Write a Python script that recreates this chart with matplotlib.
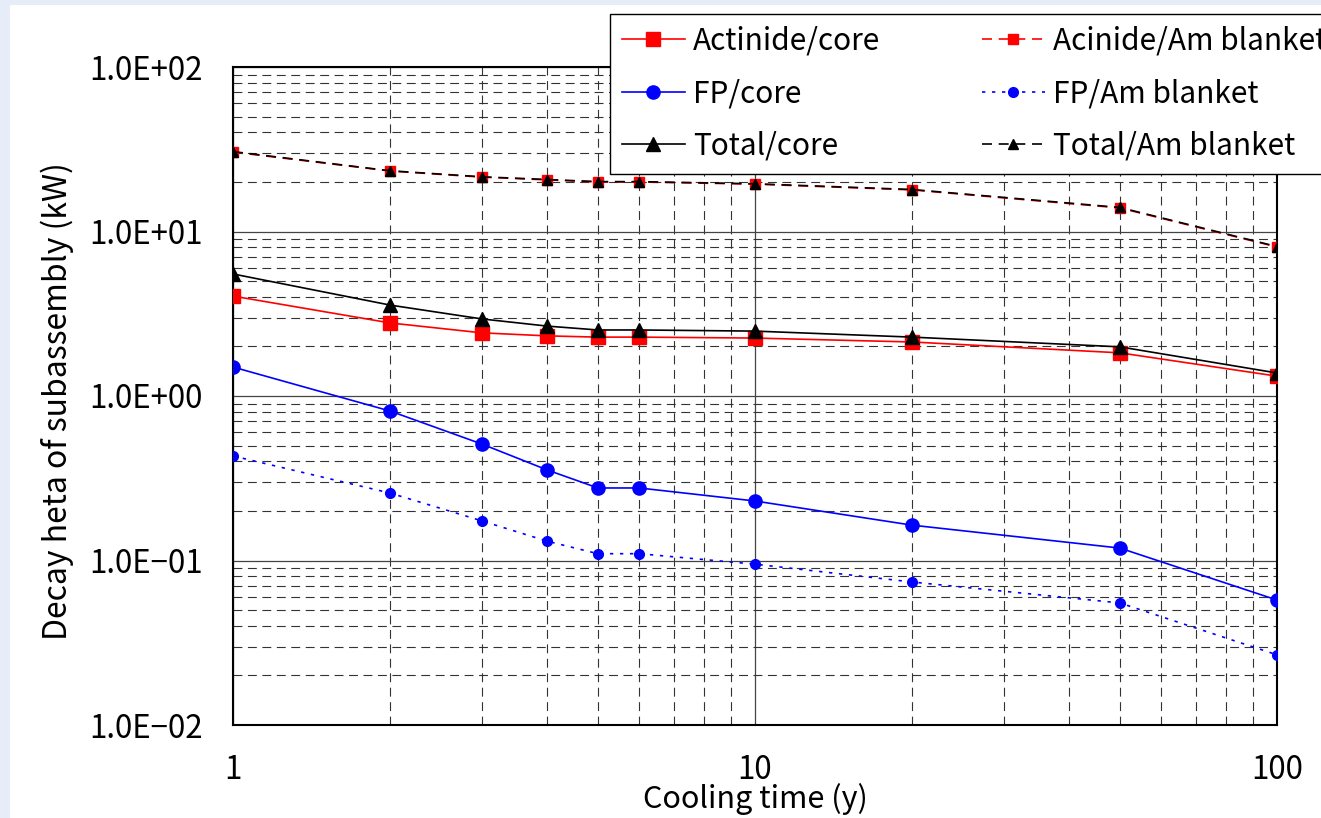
import matplotlib
matplotlib.use("Agg")
import matplotlib.pyplot as plt
from matplotlib.patches import Rectangle
from matplotlib.ticker import FixedLocator, LogLocator, NullFormatter

plt.rcParams['font.family'] = ['Noto Sans CJK JP', 'DejaVu Sans']

cooling_time = [1, 2, 3, 4, 5, 6, 10, 20, 50, 100]
actinide_core = [4.05, 2.78, 2.42, 2.32, 2.28, 2.28, 2.25, 2.13, 1.83, 1.32]
fp_core = [1.50, 0.81, 0.51, 0.355, 0.276, 0.276, 0.23, 0.164, 0.119, 0.0575]
total_core = [5.52, 3.57, 2.94, 2.66, 2.52, 2.52, 2.48, 2.28, 1.99, 1.38]
actinide_blanket = [30.4, 23.3, 21.4, 20.6, 20.0, 20.0, 19.4, 17.9, 13.9, 8.05]
fp_blanket = [0.432, 0.257, 0.174, 0.131, 0.110, 0.110, 0.095, 0.074, 0.0552, 0.0267]
total_blanket = [30.6, 23.4, 21.5, 20.7, 20.1, 20.1, 19.5, 18.0, 14.0, 8.1]

y_ticks = [0.01, 0.1, 1, 10, 100]
y_tick_labels = ["1.0E\u221202", "1.0E\u221201", "1.0E+00", "1.0E+01", "1.0E+02"]
x_ticks = [1, 10, 100]
x_tick_labels = ["1", "10", "100"]

W, H = 1321, 818
FS = 21.5
TFS = 22.5
LFS = 23
fig = plt.figure(figsize=(W / 100, H / 100), dpi=100, facecolor="#e6edf8")
fig.patches.append(Rectangle((10 / W, 0), 1 - 10 / W, 1 - 5 / H, transform=fig.transFigure,
                             facecolor="white", edgecolor="none", zorder=-10))

ax = fig.add_axes([233 / W, 1 - 725 / H, (1277 - 233) / W, (725 - 67) / H])
ax.set_xscale("log")
ax.set_yscale("log")
ax.set_xlim(1, 100)
ax.set_ylim(0.01, 100)
ax.set_facecolor("white")

ax.yaxis.set_major_locator(FixedLocator(y_ticks))
ax.set_yticklabels(y_tick_labels)
ax.xaxis.set_major_locator(FixedLocator(x_ticks))
ax.set_xticklabels(x_tick_labels)
ax.xaxis.set_minor_locator(LogLocator(base=10, subs=range(2, 10)))
ax.yaxis.set_minor_locator(LogLocator(base=10, subs=range(2, 10)))
ax.xaxis.set_minor_formatter(NullFormatter())
ax.yaxis.set_minor_formatter(NullFormatter())
ax.tick_params(which="both", length=0, labelsize=TFS, colors="black")
ax.tick_params(axis="y", pad=22)
ax.tick_params(axis="x", pad=21)

ax.grid(which="major", color="#444444", linewidth=0.9, linestyle="-")
ax.grid(which="minor", color="#333333", linewidth=0.8, linestyle=(0, (8, 5)))
ax.set_axisbelow(True)
for s in ax.spines.values():
    s.set_linewidth(1.5)
    s.set_color("black")

lw = 1.2
ax.plot(cooling_time, actinide_core, "-", color="red", marker="s", ms=10, lw=lw, label="Actinide/core", zorder=3)
ax.plot(cooling_time, fp_core, "-", color="blue", marker="o", ms=9.5, lw=lw, label="FP/core", zorder=3)
ax.plot(cooling_time, total_core, "-", color="black", marker="^", ms=10, lw=lw, label="Total/core", zorder=3)
ax.plot(cooling_time, actinide_blanket, color="red", linestyle=(0, (6, 4)), marker="s", ms=7, lw=lw, label="Acinide/Am blanket", zorder=3)
ax.plot(cooling_time, fp_blanket, color="blue", linestyle=(0, (2, 4)), marker="o", ms=7, lw=lw, label="FP/Am blanket", zorder=3)
ax.plot(cooling_time, total_blanket, color="black", linestyle=(0, (6, 4)), marker="^", ms=6.5, lw=lw, label="Total/Am blanket", zorder=3)

ax.set_ylabel("Decay heta of subassembly (kW)", fontsize=LFS)
ax.yaxis.set_label_coords(-0.152, 0.492)
ax.set_xlabel("Cooling time (y)", fontsize=22, labelpad=-2)

leg = fig.legend(loc="upper left", bbox_to_anchor=(610 / W, 1 - 14 / H), borderaxespad=0,
                 ncol=2, fontsize=FS,
                 frameon=True, fancybox=False, edgecolor="black", framealpha=1,
                 handlelength=2.1, columnspacing=3.4, labelspacing=0.72, borderpad=0.4,
                 handletextpad=0.28)
leg.get_frame().set_linewidth(1.0)

fig.savefig("out.png", dpi=100, facecolor=fig.get_facecolor())
